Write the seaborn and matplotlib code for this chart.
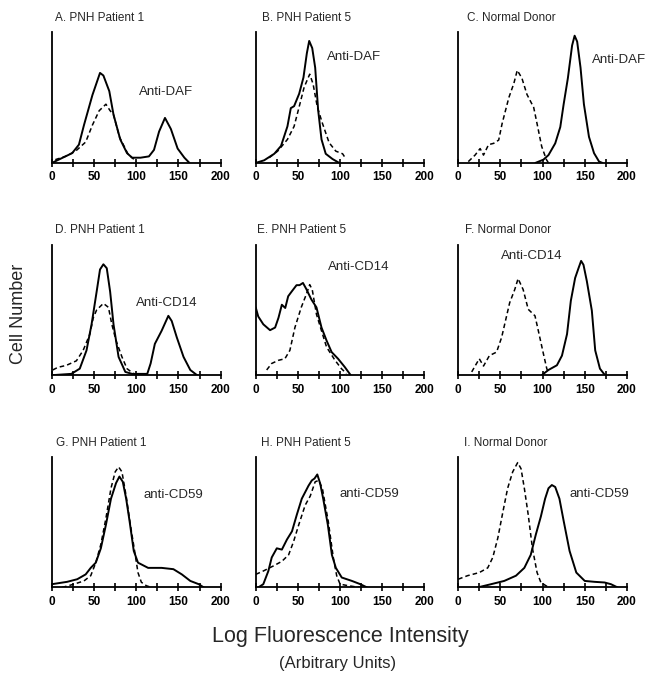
import pandas as pd
import seaborn as sns
import matplotlib.pyplot as plt
import numpy as np

# panel titles / antibody labels
titles = ["A. PNH Patient 1", "B. PNH Patient 5", "C. Normal Donor",
          "D. PNH Patient 1", "E. PNH Patient 5", "F. Normal Donor",
          "G. PNH Patient 1", "H. PNH Patient 5", "I. Normal Donor"]
antibodies = ["Anti-DAF", "Anti-DAF", "Anti-DAF",
              "Anti-CD14", "Anti-CD14", "Anti-CD14",
              "anti-CD59", "anti-CD59", "anti-CD59"]
label_x = [103, 85, 159, 100, 86, 51, 108, 99, 132]
label_y = [54, 81, 79, 55, 83, 91, 71, 72, 72]
title_x = [0.02, 0.035, 0.05, 0.02, 0.005, 0.04, 0.025, 0.03, 0.037]

# A
A_solid_x = [0, 8, 24, 32, 38, 48, 57, 61, 68, 73, 81, 89, 95, 105, 115, 121, 127, 134, 141, 149, 157, 163]
A_solid_y = [0, 2.5, 7.5, 14, 29, 52, 69, 67, 55, 37, 18, 7.5, 4, 4, 5, 10, 24, 34.5, 26, 11, 4, 0]
A_dash_x = [4, 16, 28, 40, 48, 56, 64, 69, 73, 80, 90, 100]
A_dash_y = [2.5, 5, 9, 16, 29, 40, 45, 40, 37, 20, 7, 1]
# B
B_solid_x = [0, 10, 22, 30, 37.6, 41.6, 45.5, 51.5, 56.6, 60.6, 63.4, 67, 70.5, 74, 78, 83, 91, 99]
B_solid_y = [0, 2, 7, 13, 28, 42, 43.5, 53, 65.5, 84, 93.5, 88, 73, 40.5, 18, 7, 3, 0]
B_dash_x = [16, 26, 37.6, 45.5, 51.5, 57.4, 64, 68, 73, 79, 87, 95, 103, 107]
B_dash_y = [4, 9, 18, 28, 43, 58, 68, 60.5, 43, 30.5, 15.5, 9, 7, 3]
# C
C_solid_x = [91.5, 101, 107, 115, 121, 125, 130, 135, 138, 141, 145, 149, 155, 161, 167, 171]
C_solid_y = [0, 2.5, 6, 15, 27.5, 45, 65, 90, 97.5, 93, 73, 45, 20, 7.5, 1, 0]
C_dash_x = [12, 20, 26, 30, 36, 42, 48, 52, 60, 66, 70, 75.5, 81.5, 89.5, 93.5, 99, 104.6, 107]
C_dash_y = [1, 6, 11, 6, 14, 15, 17.5, 30, 50, 61, 71, 65, 52.5, 42.5, 30, 12.5, 2.5, 0]
# D
D_solid_x = [0, 23, 33, 41, 47, 53, 57, 61, 65, 69, 73, 79, 87, 95, 113, 117, 122, 130, 138, 142, 148, 156, 164, 172]
D_solid_y = [0, 1, 5, 19, 39, 64, 81, 85, 82, 64, 39, 14, 2.5, 1, 1, 9, 24, 34, 45.5, 41.5, 29, 14, 4, 0]
D_dash_x = [1, 7, 17, 29, 37, 45, 49, 53, 61, 67, 71, 76, 83, 89, 95, 99]
D_dash_y = [4, 6, 7.5, 11, 19, 31.5, 44, 50, 55, 52, 39, 26.5, 14, 5, 2, 0]
# E
E_solid_x = [0, 3, 9, 17, 23, 27, 31, 35, 38.5, 42.5, 48.4, 52, 56, 60, 66, 72, 78, 84, 90, 97.6, 105.5, 112.6]
E_solid_y = [52, 45, 39, 34.5, 36.5, 44, 54, 51.5, 60.5, 64, 69, 69, 70.7, 66, 58, 52, 36.5, 26.5, 17.7, 12.6, 6.3, 0]
E_dash_x = [13, 19, 27, 34.6, 40.5, 46.5, 54, 60, 64, 67, 72, 78, 84, 94, 101.6, 107.5]
E_dash_y = [4, 9, 11.4, 12.6, 19, 36.6, 52, 62, 69.4, 65.6, 46.7, 34, 21.5, 11.4, 5, 1.3]
# F
F_solid_x = [99, 107, 117, 123, 129, 133.5, 138.6, 142.6, 145.7, 148.5, 152.5, 158.4, 162.4, 168, 174]
F_solid_y = [0, 4, 7.6, 15, 31.5, 57, 74.5, 82, 87.6, 84.6, 72, 49.5, 19, 5, 0]
F_dash_x = [16, 25, 30, 37, 45.5, 51.5, 61, 67, 71, 77, 83, 91, 95, 101, 105, 107]
F_dash_y = [2.5, 12.6, 7, 15, 17.7, 29, 55.5, 65.6, 74, 65.6, 50.5, 45.5, 34, 16.4, 5, 2]
# G
G_solid_x = [0, 18, 30, 40, 46, 52, 58, 64, 70, 76, 80, 84, 88, 92, 97, 102, 114, 130, 144, 154, 164, 174, 180]
G_solid_y = [2.5, 4.3, 6.3, 10, 15, 19, 30, 48, 68, 80, 85, 81, 68, 51, 28, 19, 15, 15, 14, 10, 5, 2.5, 0]
G_dash_x = [12, 26, 38, 46, 52, 58, 64, 70, 75, 79, 83, 88, 93, 98, 102, 106, 112, 118]
G_dash_y = [0, 2.5, 5, 9, 19, 33, 53, 76, 88.6, 92.4, 88.6, 70, 48, 28, 11.4, 4, 1.3, 0]
# H
H_solid_x = [3, 9, 15, 19, 25, 31, 37, 43, 48.7, 54.6, 62.6, 66.5, 69.7, 73, 76.4, 80, 85.5, 90.3, 95, 102, 114, 124, 132]
H_solid_y = [0, 2.5, 12.6, 23, 30, 29, 36.7, 43, 55.7, 68, 78, 82, 83.5, 86.6, 79.7, 68, 48, 25, 15, 7.6, 5, 2.5, 0]
H_dash_x = [0, 9, 21, 31, 39, 44.8, 51, 58.6, 64.6, 70.5, 74.5, 79, 86, 92, 96, 100, 110, 118, 124]
H_dash_y = [10, 12.6, 16.5, 20, 25, 35, 48, 63, 70, 81, 82, 76, 50.6, 22.8, 9, 2.5, 1.3, 0.5, 0]
# I
I_solid_x = [23, 39, 54.6, 68.5, 78.4, 86, 92, 98, 103, 107, 111, 115, 120, 125, 132, 140, 150, 161.6, 173.5, 181, 189]
I_solid_y = [0, 2.5, 5, 9, 15, 25, 40.5, 54.4, 68, 76, 78.5, 77, 68, 51, 28, 11.4, 5, 4.3, 3.8, 2.5, 0]
I_dash_x = [0, 11, 25, 35, 41, 47, 53, 58.6, 64.6, 70.5, 74.5, 78.4, 83, 88, 93.5, 98, 106]
I_dash_y = [6.3, 9, 11.4, 15, 23, 38, 58, 76, 88.6, 95.7, 91, 76, 55.7, 30, 11.4, 3.8, 0.5]

solids = [(A_solid_x, A_solid_y), (B_solid_x, B_solid_y), (C_solid_x, C_solid_y),
          (D_solid_x, D_solid_y), (E_solid_x, E_solid_y), (F_solid_x, F_solid_y),
          (G_solid_x, G_solid_y), (H_solid_x, H_solid_y), (I_solid_x, I_solid_y)]
dashes = [(A_dash_x, A_dash_y), (B_dash_x, B_dash_y), (C_dash_x, C_dash_y),
          (D_dash_x, D_dash_y), (E_dash_x, E_dash_y), (F_dash_x, F_dash_y),
          (G_dash_x, G_dash_y), (H_dash_x, H_dash_y), (I_dash_x, I_dash_y)]

sns.set_style("white")
plt.rcParams['font.family'] = ['Liberation Sans', 'DejaVu Sans']

fig = plt.figure(figsize=(6.49, 6.76), dpi=100)
lefts = [0.080, 0.394, 0.706]
bottoms = [0.759, 0.445, 0.131]

for i in range(9):
    r, c = divmod(i, 3)
    ax = fig.add_axes([lefts[c], bottoms[r], 0.26, 0.193])
    dx, dy = dashes[i]
    sx, sy = solids[i]
    sns.lineplot(x=dx, y=dy, ax=ax, color='black', lw=1.1, sort=False,
                 estimator=None, linestyle=(0, (3, 2)))
    sns.lineplot(x=sx, y=sy, ax=ax, color='black', lw=1.4, sort=False,
                 estimator=None)
    ax.set_xlim(0, 200)
    ax.set_ylim(0, 100)
    sns.despine(ax=ax)
    for s in ['left', 'bottom']:
        ax.spines[s].set_linewidth(1.3)
        ax.spines[s].set_color('black')
    ax.set_yticks([])
    ax.set_xticks([0, 50, 100, 150, 200])
    ax.set_xticks([25, 75, 125, 175], minor=True)
    ax.tick_params(axis='x', which='both', direction='inout', length=6,
                   width=1.2, bottom=True, colors='black', labelsize=8.5, pad=3)
    for t in ax.get_xticklabels():
        t.set_fontweight('bold')
    ax.set_xlabel('')
    ax.set_ylabel('')
    ax.text(title_x[i], 1.11, titles[i], transform=ax.transAxes, fontsize=8.5,
            va='center', ha='left')
    ax.text(label_x[i], label_y[i], antibodies[i], fontsize=9.5, va='center',
            ha='left', clip_on=False)

fig.text(0.028, 0.535, 'Cell Number', rotation=90, fontsize=13,
         ha='center', va='center')
fig.text(0.525, 0.058, 'Log Fluorescence Intensity', fontsize=15.5,
         ha='center', va='center')
fig.text(0.52, 0.019, '(Arbitrary Units)', fontsize=12,
         ha='center', va='center')

plt.savefig("out.png", dpi=100)
